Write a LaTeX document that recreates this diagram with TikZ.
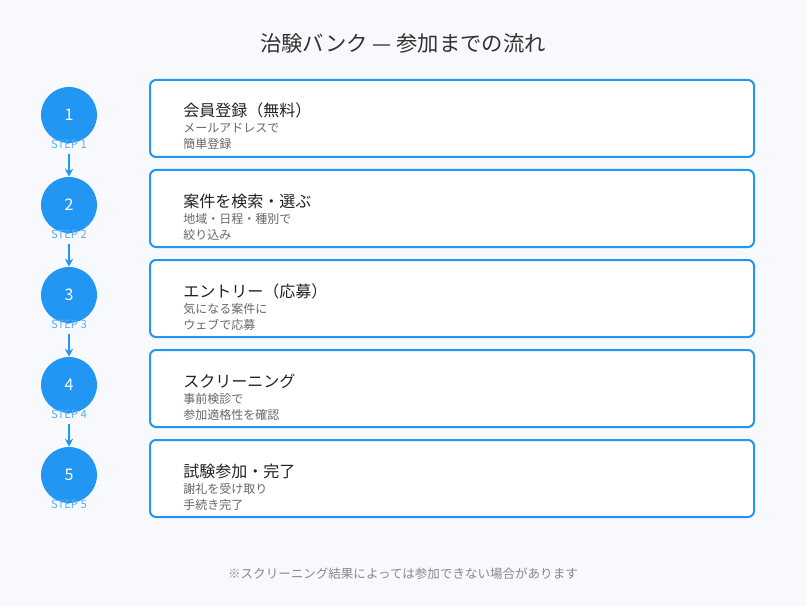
\documentclass[tikz,border=0pt]{standalone}
\usepackage{fontspec}
\setmainfont{Noto Sans CJK JP}
\usetikzlibrary{arrows.meta}
\definecolor{bg}{HTML}{F8F9FD}
\definecolor{blu}{HTML}{2196F3}
\definecolor{tdark}{HTML}{222222}
\definecolor{thead}{HTML}{333333}
\definecolor{tgray}{HTML}{666666}
\definecolor{tfoot}{HTML}{888888}
\tikzset{
  stepcirc/.style={circle,fill=blu,minimum size=56*0.75pt,inner sep=0pt,text=white,font=\fontsize{12}{12}\selectfont},
  steplab/.style={text=blu!75,font=\fontsize{8.5}{9}\selectfont,inner sep=0pt},
  cardbox/.style={draw=blu,line width=1.5pt,fill=white,rounded corners=4.5pt},
  cardtitle/.style={anchor=base west,text=tdark,font=\fontsize{12}{12}\selectfont,inner sep=0pt},
  cardsub/.style={anchor=north west,text=tgray,font=\fontsize{9}{12}\selectfont,inner sep=0pt,align=left},
  flowarrow/.style={draw=blu,line width=1.5pt,-{Stealth[length=6pt,width=6pt]}}
}
\begin{document}
\begin{tikzpicture}[x=0.75pt,y=-0.75pt]
\fill[bg] (0,0) rectangle (806,606);
\useasboundingbox (0,0) rectangle (806,606);
\node[text=thead,font=\fontsize{16}{16}\selectfont] (title) at (403,43) {治験バンク — 参加までの流れ};
\foreach \i/\t/\a/\b in {1/会員登録（無料）/メールアドレスで/簡単登録,
  2/案件を検索・選ぶ/地域・日程・種別で/絞り込み,
  3/エントリー（応募）/気になる案件に/ウェブで応募,
  4/スクリーニング/事前検診で/参加適格性を確認,
  5/試験参加・完了/謝礼を受け取り/手続き完了}{
  \pgfmathsetmacro{\yc}{115+90*(\i-1)}
  \node[stepcirc] (c\i) at (69,\yc) {\i};
  \node[steplab] (s\i) at (69,\yc+29) {STEP \i};
  \draw[cardbox] (150,\yc-35) rectangle (754,\yc+42);
  \node[cardtitle] (t\i) at (183,\yc+2) {\t};
  \node[cardsub] (d\i) at (183,\yc+8) {\a\\\b};
}
\foreach \i/\j in {1/2,2/3,3/4,4/5}{
  \coordinate (a\i) at ([yshift=-3.75pt]s\i.south);
  \draw[flowarrow] (a\i) -- (c\j.north);
}
\node[text=tfoot,font=\fontsize{9.4}{9.4}\selectfont] (foot) at (403,574) {※スクリーニング結果によっては参加できない場合があります};
\end{tikzpicture}
\end{document}
